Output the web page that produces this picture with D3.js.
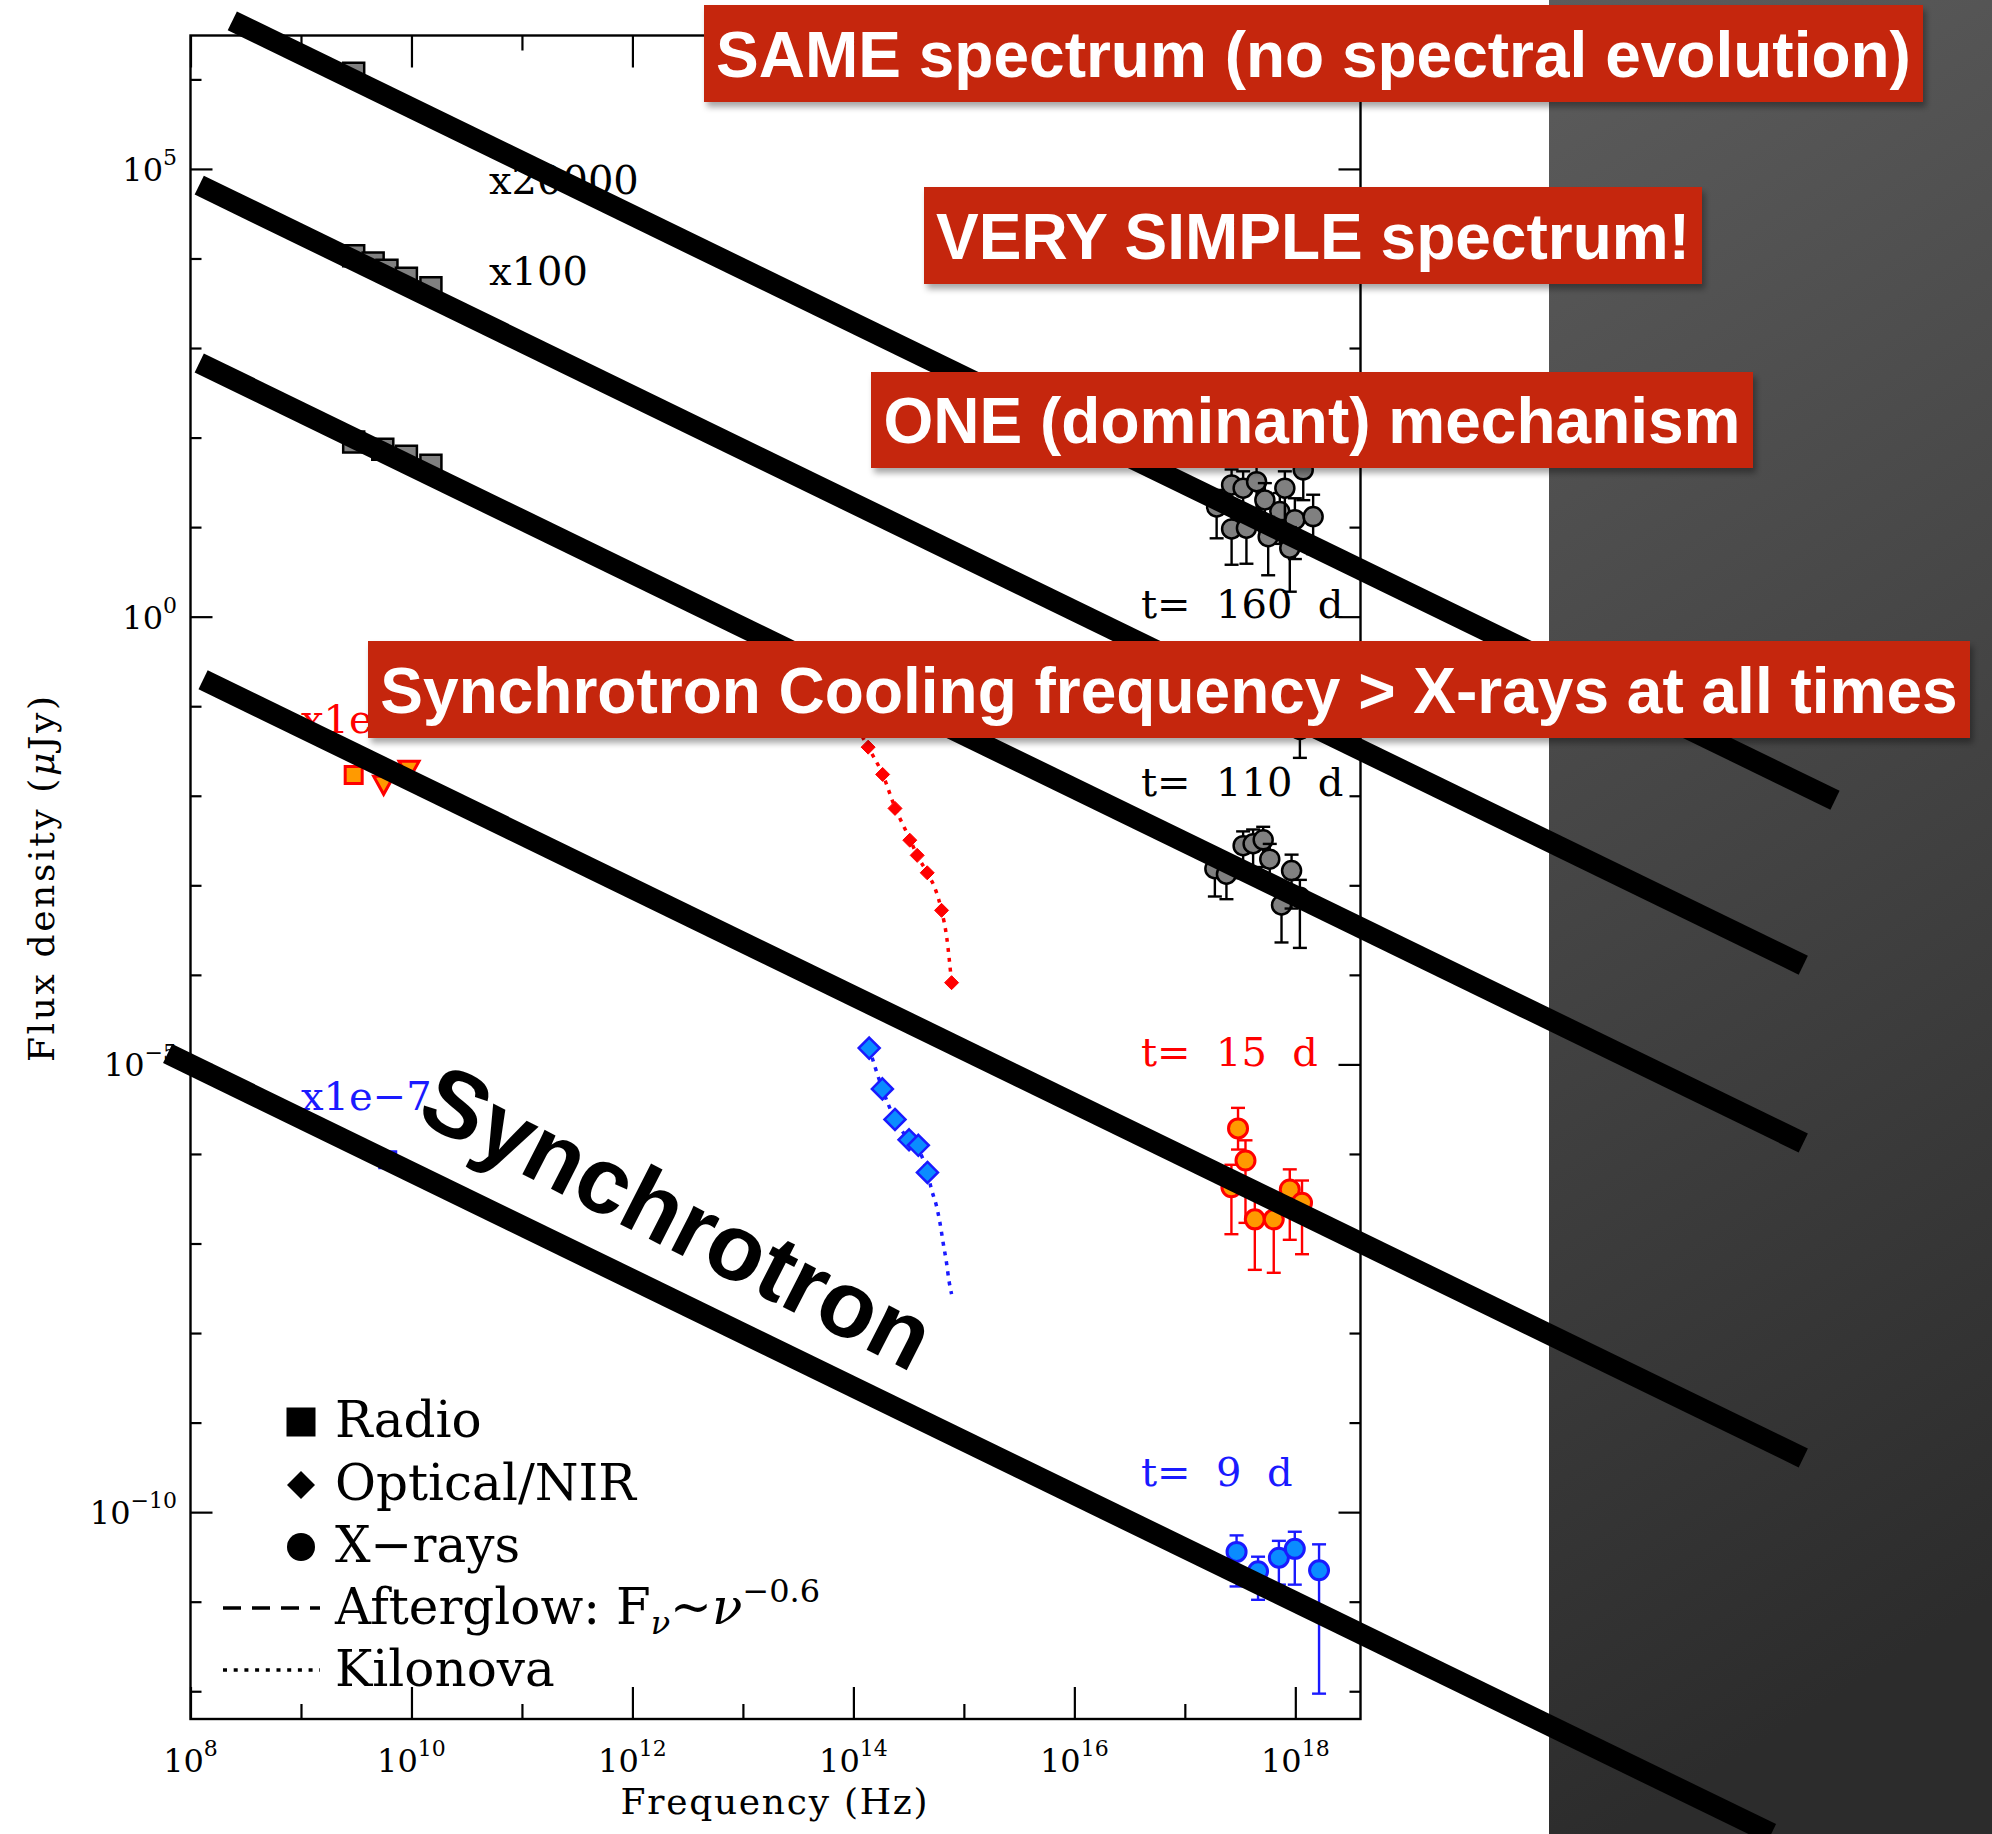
<!DOCTYPE html>
<html>
<head>
<meta charset="utf-8">
<script src="https://cdn.jsdelivr.net/npm/d3@7"></script>
<style>
html,body{margin:0;padding:0;background:#fff;}
svg{display:block;}
</style>
</head>
<body>
<svg id="chart" width="1992" height="1834"></svg>
<script>
// ---------------- data ----------------
// Frequencies in Hz, flux densities in μJy (each epoch already multiplied by its offset factor).
// Rows: [frequency, flux, lower end of error bar, upper end of error bar]

// latest epoch (x20000)
const radioA = [[3.0e9, 1.17e6, 1.05e6, 1.3e6]];
const xrayA = [
  [1.94e17, 16.8, 7.5, 26], [2.65e17, 29.6, 15, 44], [3.37e17, 27.2, 12, 42], [4.46e17, 32.2, 16, 50],
  [5.30e17, 20.1, 9, 31], [7.24e17, 14.9, 6.5, 24], [8.04e17, 27.2, 12, 42], [9.91e17, 12.1, 4.4, 21],
  [1.18e18, 43.6, 20, 64], [1.45e18, 13.1, 5.0, 23], [2.65e17, 9.55, 3.8, 16], [3.61e17, 9.73, 3.9, 16],
  [5.68e17, 7.83, 2.9, 13], [8.91e17, 5.82, 1.9, 10]
];
// t = 160 d (x100)
const radioB = [[3.0e9, 1.07e4, 9.6e3, 1.18e4], [4.5e9, 8.9e3, 8.0e3, 9.8e3], [6.0e9, 7.4e3, 6.6e3, 8.2e3],
                [9.0e9, 6.0e3, 5.0e3, 7.0e3], [1.5e10, 4.7e3, 4.1e3, 5.3e3]];
const xrayB = [[1.9e17, 0.20, 0.14, 0.27], [2.6e17, 0.16, 0.11, 0.22], [3.5e17, 0.13, 0.09, 0.18],
               [4.6e17, 0.11, 0.08, 0.15], [6.0e17, 0.095, 0.07, 0.13], [8.0e17, 0.07, 0.05, 0.095],
               [1.1e18, 0.055, 0.0265, 0.08]];
// t = 110 d
const radioC = [[3.0e9, 89.5, 80, 99], [5.5e9, 74, 66, 82], [9.0e9, 62, 55, 69], [1.5e10, 49, 44, 54]];
const xrayC = [
  [1.87e17, 1.53e-3, 7.5e-4, 2.3e-3], [2.38e17, 1.33e-3, 7.0e-4, 2.0e-3], [3.37e17, 2.77e-3, 1.2e-3, 4.0e-3],
  [4.15e17, 2.91e-3, 1.3e-3, 4.2e-3], [5.12e17, 3.22e-3, 1.6e-3, 4.5e-3], [5.87e17, 1.96e-3, 9.0e-4, 2.9e-3],
  [7.50e17, 6.03e-4, 2.3e-4, 9.5e-4], [9.25e17, 1.46e-3, 5.5e-4, 2.2e-3], [1.10e18, 7.35e-4, 2.0e-4, 1.15e-3]
];
// t = 15 d
const radioD = [[3.0e9, 1.71e-2, 1.42e-2, 1.71e-2]];
const radioDLimits = [[5.6e9, 1.36e-2], [9.5e9, 2.0e-2]];
const opticalD = [[1.36e14, 3.49e-2], [1.84e14, 1.73e-2], [2.38e14, 7.23e-3], [3.24e14, 3.19e-3],
                  [3.78e14, 2.16e-3], [4.66e14, 1.38e-3], [6.28e14, 5.25e-4], [7.74e14, 8.18e-5]];
const kilonovaD = [[1.20e14, 4.6e-2], [1.36e14, 3.49e-2], [1.84e14, 1.73e-2], [2.38e14, 7.4e-3], [3.24e14, 3.3e-3],
                   [3.78e14, 2.16e-3], [4.66e14, 1.38e-3], [5.6e14, 8.6e-4], [6.28e14, 5.25e-4],
                   [7.0e14, 2.6e-4], [7.74e14, 8.18e-5]];
const xrayD = [
  [3.03e17, 1.93e-6, 1.12e-6, 3.27e-6], [3.54e17, 8.45e-7, 1.70e-7, 1.42e-6], [2.64e17, 4.25e-7, 1.27e-7, 7.57e-7],
  [4.30e17, 1.86e-7, 5.08e-8, 3.55e-7], [6.38e17, 1.86e-7, 4.71e-8, 3.55e-7], [8.91e17, 4.01e-7, 1.10e-7, 6.73e-7],
  [1.15e18, 2.85e-7, 7.59e-8, 5.05e-7]
];
// t = 9 d
const radioE = [[6.1e9, 8.6e-7, 7.4e-7, 1.02e-6]];
const opticalE = [[1.39e14, 1.52e-5], [1.83e14, 5.33e-6], [2.38e14, 2.43e-6], [3.19e14, 1.44e-6],
                  [3.87e14, 1.25e-6], [4.68e14, 6.21e-7]];
const kilonovaE = [[1.39e14, 1.52e-5], [1.83e14, 5.33e-6], [2.38e14, 2.43e-6], [3.19e14, 1.44e-6],
                   [3.87e14, 1.12e-6], [4.68e14, 6.21e-7], [5.11e14, 3.95e-7], [5.66e14, 2.60e-7],
                   [6.07e14, 1.71e-7], [6.50e14, 1.01e-7], [6.98e14, 5.97e-8], [7.31e14, 3.93e-8],
                   [7.74e14, 2.72e-8]];
const xrayE = [
  [2.94e17, 3.60e-11, 1.48e-11, 5.50e-11], [4.60e17, 2.19e-11, 1.05e-11, 3.18e-11],
  [7.10e17, 3.10e-11, 1.55e-11, 4.78e-11], [9.89e17, 3.89e-11, 1.55e-11, 6.04e-11],
  [1.64e18, 2.24e-11, 9.4e-13, 4.37e-11]
];

// synchrotron power laws F ∝ ν^-0.6, one per epoch
const powerLawIndex = -0.6;
const powerLawAt1e18 = [7.6, 0.0735, 7.6e-4, 2.31e-7, 9.93e-12];
const powerLawFrom = [2.39e8, 1.20e8, 1.20e8, 1.30e8, 6.21e7];
const powerLawTo = [7.67e22, 3.96e22, 3.96e22, 3.96e22, 2.04e22];

// tick exponents
const xTickExp = [8, 10, 12, 14, 16, 18];
const xMinorExp = [9, 11, 13, 15, 17];
const yTickExp = [5, 0, -5, -10];
const yMinorExp = [-12, -11, -9, -8, -7, -6, -4, -3, -2, -1, 1, 2, 3, 4, 6];

// text annotations
const offsetLabels = ["x20000", "x100", "x1e−4", "x1e−7"];
const epochLabels = ["t=  160  d", "t=  110  d", "t=  15  d", "t=  9  d"];
const banners = ["SAME spectrum (no spectral evolution)", "VERY SIMPLE spectrum!",
                 "ONE (dominant) mechanism", "Synchrotron Cooling frequency > X-rays at all times"];

// ---------------- drawing ----------------
const W = 1992, H = 1834;
const plot = {left: 190.5, right: 1360.5, top: 35.5, bottom: 1719};
const svg = d3.select("#chart");
const x = d3.scaleLog().domain([1e8, 10 ** 18.59]).range([plot.left, plot.right]);
const y = d3.scaleLog().domain([10 ** -12.31, 10 ** 6.49]).range([plot.bottom, plot.top]);

const defs = svg.append("defs");
const grad = defs.append("linearGradient").attr("id", "panelGrad")
  .attr("x1", 0).attr("y1", 0).attr("x2", 0.15).attr("y2", 1);
grad.append("stop").attr("offset", "0%").attr("stop-color", "#5c5c5c");
grad.append("stop").attr("offset", "100%").attr("stop-color", "#2c2c2c");
const shadow = defs.append("filter").attr("id", "shadow")
  .attr("x", "-5%").attr("y", "-20%").attr("width", "110%").attr("height", "150%");
shadow.append("feDropShadow").attr("dx", 3).attr("dy", 5).attr("stdDeviation", 3)
  .attr("flood-color", "#000").attr("flood-opacity", 0.35);

svg.append("rect").attr("width", W).attr("height", H).attr("fill", "#fff");
svg.append("rect").attr("x", 1549).attr("y", 0).attr("width", W - 1549).attr("height", H)
  .attr("fill", "url(#panelGrad)");

// axes: ticks point inward on all four sides
const axisG = svg.append("g").attr("class", "axes");
function tickAxis(gen, vals, len, tx, ty) {
  const g = axisG.append("g").attr("transform", `translate(${tx},${ty})`)
    .call(gen.tickValues(vals).tickSizeInner(-len).tickSizeOuter(0).tickFormat(""));
  g.select(".domain").remove();
  g.selectAll("line").attr("stroke", "#000").attr("stroke-width", 2.2);
}
const p10 = e => 10 ** e;
tickAxis(d3.axisBottom(x), xTickExp.map(p10), 32, 0, plot.bottom);
tickAxis(d3.axisBottom(x), xMinorExp.map(p10), 15, 0, plot.bottom);
tickAxis(d3.axisTop(x), xTickExp.map(p10), 32, 0, plot.top);
tickAxis(d3.axisTop(x), xMinorExp.map(p10), 15, 0, plot.top);
tickAxis(d3.axisLeft(y), yTickExp.map(p10), 22, plot.left, 0);
tickAxis(d3.axisLeft(y), yMinorExp.map(p10), 11, plot.left, 0);
tickAxis(d3.axisRight(y), yTickExp.map(p10), 22, plot.right, 0);
tickAxis(d3.axisRight(y), yMinorExp.map(p10), 11, plot.right, 0);
axisG.append("rect").attr("x", plot.left).attr("y", plot.top)
  .attr("width", plot.right - plot.left).attr("height", plot.bottom - plot.top)
  .attr("fill", "none").attr("stroke", "#000").attr("stroke-width", 2.4);

const expText = e => (e < 0 ? "\u2212" + (-e) : String(e));
function powerLabel(sel, e) {
  sel.append("tspan").text("10");
  sel.append("tspan").attr("dy", -16).attr("font-size", 22).text(expText(e));
}
axisG.selectAll(".xlab").data(xTickExp).join("text")
  .attr("x", d => x(10 ** d)).attr("y", 1772).attr("text-anchor", "middle")
  .attr("font-family", "DejaVu Serif").attr("font-size", 32)
  .each(function (d) { powerLabel(d3.select(this), d); });
axisG.selectAll(".ylab").data(yTickExp).join("text")
  .attr("x", 177).attr("y", d => y(10 ** d) + 12).attr("text-anchor", "end")
  .attr("font-family", "DejaVu Serif").attr("font-size", 32)
  .each(function (d) { powerLabel(d3.select(this), d); });

axisG.append("text").attr("x", 774).attr("y", 1814).attr("text-anchor", "middle")
  .attr("font-family", "DejaVu Serif").attr("font-size", 36)
  .attr("textLength", 307).attr("lengthAdjust", "spacing").text("Frequency (Hz)");
const ylab = axisG.append("text").attr("transform", "translate(54,879) rotate(-90)")
  .attr("text-anchor", "middle").attr("font-family", "DejaVu Serif").attr("font-size", 36)
  .attr("textLength", 366).attr("lengthAdjust", "spacing");
ylab.append("tspan").text("Flux density (");
ylab.append("tspan").attr("font-style", "italic").text("μ");
ylab.append("tspan").text("Jy)");

// data marks
const dataG = svg.append("g");
const line = d3.line().x(d => x(d[0])).y(d => y(d[1])).curve(d3.curveMonotoneX);

// marker outlines, centred on the data point
const shapes = {
  square: h => `M${-h},${-h}H${h}V${h}H${-h}Z`,
  diamond: h => `M0,${-h}L${h},0L0,${h}L${-h},0Z`,
  triDown: h => `M${-h},${-h * 0.75}H${h}L0,${h * 1.05}Z`,
  circle: h => `M${h},0A${h},${h} 0 1,1 ${-h},0A${h},${h} 0 1,1 ${h},0Z`
};

function errorBars(rows, color, width) {
  const g = dataG.append("g").attr("stroke", color).attr("stroke-width", width).attr("fill", "none");
  rows.forEach(r => {
    const cx = x(r[0]);
    g.append("line").attr("x1", cx).attr("x2", cx).attr("y1", y(r[2])).attr("y2", y(r[3]));
    g.append("line").attr("x1", cx - 7).attr("x2", cx + 7).attr("y1", y(r[2])).attr("y2", y(r[2]));
    g.append("line").attr("x1", cx - 7).attr("x2", cx + 7).attr("y1", y(r[3])).attr("y2", y(r[3]));
  });
}
function points(rows, shape, half, fill, stroke, sw) {
  dataG.append("g").selectAll("path").data(rows).join("path")
    .attr("transform", d => `translate(${x(d[0])},${y(d[1])})`)
    .attr("d", shapes[shape](half)).attr("fill", fill).attr("stroke", stroke).attr("stroke-width", sw);
}
function withBars(rows, shape, half, fill, stroke, sw) {
  rows.forEach(r => { errorBars([r], stroke, 2.4); points([r], shape, half, fill, stroke, sw); });
}

const gray = "#808080", orange = "#ff9a00", red = "#ff0000", lightBlue = "#0a8cff", blue = "#1a1aff";

// kilonova models (dotted)
dataG.append("path").datum(kilonovaD).attr("d", line).attr("fill", "none")
  .attr("stroke", red).attr("stroke-width", 3.5).attr("stroke-dasharray", "4,6");
dataG.append("path").datum(kilonovaE).attr("d", line).attr("fill", "none")
  .attr("stroke", blue).attr("stroke-width", 3.5).attr("stroke-dasharray", "4,6");

withBars(radioA, "square", 10.5, gray, "#000", 2.5);
withBars(xrayA, "circle", 9.5, gray, "#000", 2.5);
withBars(radioB, "square", 10.5, gray, "#000", 2.5);
withBars(xrayB, "circle", 9.5, gray, "#000", 2.5);
withBars(radioC, "square", 10.5, gray, "#000", 2.5);
withBars(xrayC, "circle", 9.5, gray, "#000", 2.5);
withBars(radioD, "square", 8.5, orange, red, 3);
points(radioDLimits, "triDown", 10, orange, red, 3);
points(opticalD, "diamond", 7, red, red, 1);
withBars(xrayD, "circle", 9.5, orange, red, 3);
withBars(radioE, "square", 8, lightBlue, blue, 3);
points(opticalE, "diamond", 10.5, lightBlue, blue, 2.5);
withBars(xrayE, "circle", 9.5, lightBlue, blue, 3);

// offset and epoch labels
const labG = svg.append("g").attr("font-family", "DejaVu Serif").attr("font-size", 40)
  .style("white-space", "pre");
const offsetPos = [[489, 194, "#000"], [489, 285, "#000"], [301, 733, red], [301, 1110, blue]];
offsetLabels.forEach((t, i) => labG.append("text").attr("x", offsetPos[i][0]).attr("y", offsetPos[i][1])
  .attr("fill", offsetPos[i][2]).text(t));
const epochPos = [[1141, 618, "#000"], [1141, 796, "#000"], [1141, 1066, red], [1141, 1486, blue]];
epochLabels.forEach((t, i) => labG.append("text").attr("x", epochPos[i][0]).attr("y", epochPos[i][1])
  .attr("fill", epochPos[i][2]).attr("xml:space", "preserve").text(t));

// legend
const legG = svg.append("g").attr("font-family", "DejaVu Serif").attr("font-size", 50);
const legRowY = [1422, 1485, 1547, 1608, 1670];
legG.append("path").attr("transform", `translate(301,${legRowY[0]})`).attr("d", shapes.square(14.5));
legG.append("path").attr("transform", `translate(301,${legRowY[1]})`).attr("d", shapes.diamond(14));
legG.append("path").attr("transform", `translate(301,${legRowY[2]})`).attr("d", shapes.circle(14));
legG.append("line").attr("x1", 223).attr("x2", 320).attr("y1", legRowY[3]).attr("y2", legRowY[3])
  .attr("stroke", "#000").attr("stroke-width", 3.5).attr("stroke-dasharray", "18,11");
legG.append("line").attr("x1", 223).attr("x2", 320).attr("y1", legRowY[4]).attr("y2", legRowY[4])
  .attr("stroke", "#000").attr("stroke-width", 3.5).attr("stroke-dasharray", "4,6.7");
const legTexts = ["Radio", "Optical/NIR", "X\u2212rays"];
legTexts.forEach((t, i) => legG.append("text").attr("x", 335).attr("y", legRowY[i] + 15).text(t));
const ag = legG.append("text").attr("x", 335).attr("y", legRowY[3] + 16);
ag.append("tspan").text("Afterglow: F");
ag.append("tspan").attr("font-style", "italic").attr("font-size", 32).attr("dy", 10).text("ν");
ag.append("tspan").attr("dy", -10).text("~");
ag.append("tspan").attr("font-style", "italic").text("ν");
ag.append("tspan").attr("font-size", 32).attr("dy", -22).text("\u22120.6");
legG.append("text").attr("x", 335).attr("y", legRowY[4] + 16).text("Kilonova");

// thick synchrotron power laws
const plG = svg.append("g");
powerLawAt1e18.forEach((f0, i) => {
  const seg = [powerLawFrom[i], powerLawTo[i]].map(nu => [nu, f0 * Math.pow(nu / 1e18, powerLawIndex)]);
  plG.append("path").datum(seg).attr("d", d3.line().x(d => x(d[0])).y(d => y(d[1])))
    .attr("stroke", "#000").attr("stroke-width", 21).attr("stroke-linecap", "butt").attr("fill", "none");
});

svg.append("text").attr("transform", "translate(663,1246) rotate(27)").attr("text-anchor", "middle")
  .attr("font-family", "Liberation Sans").attr("font-weight", "bold").attr("font-size", 94)
  .attr("fill", "#000").text("Synchrotron");

// banners
const bannerBoxes = [[704, 5, 1219, 97], [924, 187, 778, 97], [871, 372, 882, 96], [368, 641, 1602, 97]];
const banG = svg.append("g");
banners.forEach((t, i) => {
  const [bx, by, bw, bh] = bannerBoxes[i];
  const g = banG.append("g");
  g.append("rect").attr("x", bx).attr("y", by).attr("width", bw).attr("height", bh)
    .attr("fill", "#c5250a").attr("filter", "url(#shadow)");
  g.append("text").attr("x", bx + bw / 2).attr("y", by + bh / 2 + 23).attr("text-anchor", "middle")
    .attr("font-family", "Liberation Sans").attr("font-weight", "bold").attr("font-size", 64)
    .attr("fill", "#fff").text(t);
});
</script>
</body>
</html>
